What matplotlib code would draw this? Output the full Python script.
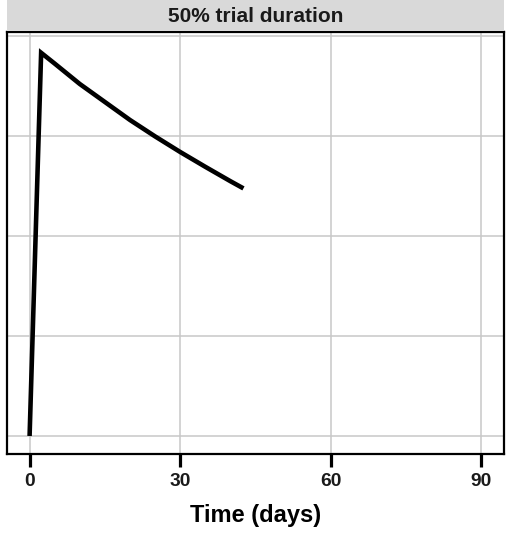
import matplotlib.pyplot as plt
from matplotlib.patches import Rectangle

# Concentration curve over the trial (days vs relative level)
days = [0, 2.3, 5, 10, 15, 20, 25, 30, 35, 40, 42.6]
level = [0, 95.8, 93.1, 88.0, 83.5, 79.0, 74.9, 71.0, 67.3, 63.7, 61.9]

x_ticks = [0, 30, 60, 90]
y_grid = [0, 25, 50, 75, 100]
panel_title = "50% trial duration"

plt.rcParams['font.family'] = ['Liberation Sans', 'DejaVu Sans']

fig = plt.figure(figsize=(5.13, 5.34), dpi=100)
ax = fig.add_axes([7 / 513, 80 / 534, 497 / 513, 422 / 534])

ax.plot(days, level, color='black', linewidth=3.3, solid_capstyle='butt', solid_joinstyle='miter', zorder=3)

ax.set_xlim(-4.5, 94.5)
ax.set_ylim(-4.5, 101)
ax.set_xticks(x_ticks)
ax.set_yticks(y_grid)
ax.grid(True, color='#c8c8c8', linewidth=1.1)
ax.set_axisbelow(True)

ax.tick_params(axis='x', length=9.5, width=2.3, color='black', pad=4.5,
               labelsize=13.8, labelcolor='#1a1a1a')
ax.tick_params(axis='y', length=0, labelleft=False)
for lbl in ax.get_xticklabels():
    lbl.set_fontweight('bold')

for side in ax.spines.values():
    side.set_linewidth(1.6)
    side.set_color('black')

ax.set_xlabel('Time (days)', fontsize=17, fontweight='bold', labelpad=10)

# facet strip across the top of the panel
strip = Rectangle((7 / 513, 503 / 534), 497 / 513, 31 / 534, transform=fig.transFigure,
                  facecolor='#d9d9d9', edgecolor='none')
fig.patches.append(strip)
fig.text((7 + 497 / 2) / 513, 1 - 16 / 534, panel_title, ha='center', va='center',
         fontsize=15, fontweight='bold', color='#1a1a1a')

fig.savefig('out.png', dpi=100)
